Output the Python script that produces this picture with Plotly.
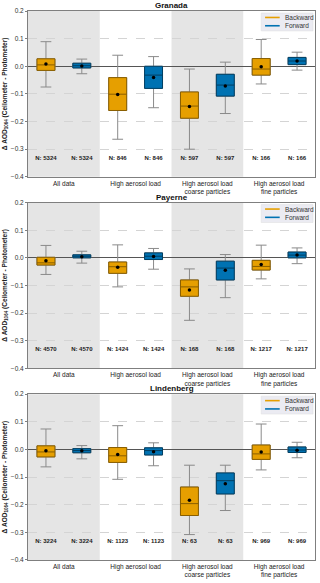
import plotly.graph_objects as go
from plotly.subplots import make_subplots

categories = ["All data", "High aerosol load", "High aerosol load<br>coarse particles", "High aerosol load<br>fine particles"]
sites = ["Granada", "Payerne", "Lindenberg"]
directions = ["Backward", "Forward"]

# Granada
granada_bwd_low = [-0.075, -0.264, -0.300, -0.064]
granada_bwd_q1 = [-0.015, -0.160, -0.188, -0.032]
granada_bwd_med = [0.005, -0.101, -0.144, -0.010]
granada_bwd_q3 = [0.027, -0.041, -0.093, 0.028]
granada_bwd_high = [0.089, 0.040, -0.010, 0.097]
granada_bwd_mean = [0.008, -0.102, -0.146, -0.002]
granada_fwd_low = [-0.027, -0.150, -0.171, -0.014]
granada_fwd_q1 = [-0.006, -0.080, -0.108, 0.006]
granada_fwd_med = [0.002, -0.032, -0.068, 0.019]
granada_fwd_q3 = [0.011, 0.000, -0.029, 0.032]
granada_fwd_high = [0.026, 0.035, 0.015, 0.051]
granada_fwd_mean = [0.001, -0.041, -0.071, 0.019]
granada_n = [5324, 846, 597, 166]

# Payerne
payerne_bwd_low = [-0.060, -0.105, -0.226, -0.076]
payerne_bwd_q1 = [-0.026, -0.056, -0.139, -0.044]
payerne_bwd_med = [-0.018, -0.032, -0.105, -0.031]
payerne_bwd_q3 = [0.002, -0.015, -0.080, -0.009]
payerne_bwd_high = [0.045, 0.047, -0.040, 0.046]
payerne_bwd_mean = [-0.010, -0.034, -0.116, -0.024]
payerne_fwd_low = [-0.019, -0.041, -0.144, -0.021]
payerne_fwd_q1 = [0.000, -0.006, -0.080, 0.000]
payerne_fwd_med = [0.006, 0.006, -0.037, 0.010]
payerne_fwd_q3 = [0.011, 0.018, -0.012, 0.021]
payerne_fwd_high = [0.024, 0.034, 0.012, 0.036]
payerne_fwd_mean = [0.004, 0.005, -0.045, 0.010]
payerne_n = [4570, 1424, 168, 1217]

# Lindenberg
lindenberg_bwd_low = [-0.063, -0.108, -0.308, -0.074]
lindenberg_bwd_q1 = [-0.027, -0.047, -0.239, -0.036]
lindenberg_bwd_med = [-0.009, -0.023, -0.196, -0.016]
lindenberg_bwd_q3 = [0.013, 0.007, -0.136, 0.016]
lindenberg_bwd_high = [0.074, 0.086, -0.057, 0.092]
lindenberg_bwd_mean = [-0.005, -0.018, -0.184, -0.009]
lindenberg_fwd_low = [-0.034, -0.059, -0.221, -0.030]
lindenberg_fwd_q1 = [-0.012, -0.020, -0.161, -0.011]
lindenberg_fwd_med = [-0.004, -0.004, -0.113, -0.002]
lindenberg_fwd_q3 = [0.003, 0.006, -0.085, 0.009]
lindenberg_fwd_high = [0.014, 0.024, -0.057, 0.026]
lindenberg_fwd_mean = [-0.005, -0.008, -0.124, -0.003]
lindenberg_n = [3224, 1123, 63, 969]

y_ticks = [0.2, 0.1, 0.0, -0.1, -0.2, -0.3, -0.4]
n_label_y = -0.332

site_stats = [
    {"Backward": (granada_bwd_low, granada_bwd_q1, granada_bwd_med, granada_bwd_q3, granada_bwd_high, granada_bwd_mean),
     "Forward": (granada_fwd_low, granada_fwd_q1, granada_fwd_med, granada_fwd_q3, granada_fwd_high, granada_fwd_mean),
     "n": granada_n},
    {"Backward": (payerne_bwd_low, payerne_bwd_q1, payerne_bwd_med, payerne_bwd_q3, payerne_bwd_high, payerne_bwd_mean),
     "Forward": (payerne_fwd_low, payerne_fwd_q1, payerne_fwd_med, payerne_fwd_q3, payerne_fwd_high, payerne_fwd_mean),
     "n": payerne_n},
    {"Backward": (lindenberg_bwd_low, lindenberg_bwd_q1, lindenberg_bwd_med, lindenberg_bwd_q3, lindenberg_bwd_high, lindenberg_bwd_mean),
     "Forward": (lindenberg_fwd_low, lindenberg_fwd_q1, lindenberg_fwd_med, lindenberg_fwd_q3, lindenberg_fwd_high, lindenberg_fwd_mean),
     "n": lindenberg_n},
]

fill = {"Backward": "#E69F00", "Forward": "#0072B2"}
edge = {"Backward": "#8a5f00", "Forward": "#003f63"}
offset = {"Backward": -0.25, "Forward": 0.25}
FONT = "Liberation Sans, Arial, sans-serif"

fig = make_subplots(rows=3, cols=1, vertical_spacing=26 / 554,
                    subplot_titles=[f"<b>{s}</b>" for s in sites])

for r, stats in enumerate(site_stats, start=1):
    sfx = "" if r == 1 else str(r)
    xr, yr = f"x{sfx}", f"y{sfx}"
    idx = list(range(len(categories)))
    # shaded category backgrounds
    for i in idx:
        if i % 2 == 0:
            fig.add_shape(type="rect", xref=xr, yref=f"{yr} domain",
                          x0=i - 0.5, x1=i + 0.5, y0=0, y1=1, fillcolor="#e5e5e5",
                          line_width=0, layer="below")
    for d in directions:
        low, q1, med, q3, high, mean = stats[d]
        xs = [i + offset[d] for i in idx]
        # whiskers (gray)
        fig.add_trace(go.Box(x=xs, q1=q1, median=med, q3=q3, lowerfence=low, upperfence=high,
                             width=0.25, whiskerwidth=0.6, line=dict(color="#8a8a8a", width=1),
                             fillcolor="rgba(0,0,0,0)", showlegend=False, hoverinfo="skip"),
                      row=r, col=1)
        # box bodies
        fig.add_trace(go.Box(x=xs, q1=q1, median=med, q3=q3, lowerfence=q1, upperfence=q3,
                             width=0.25, whiskerwidth=0, line=dict(color=edge[d], width=1),
                             fillcolor=fill[d], showlegend=False),
                      row=r, col=1)
        # means
        fig.add_trace(go.Scatter(x=xs, y=mean, mode="markers",
                                 marker=dict(color="black", size=3.5), showlegend=False),
                      row=r, col=1)
        # N labels
        fig.add_trace(go.Scatter(x=xs, y=[n_label_y] * len(xs), mode="text",
                                 text=[f"<b>N: {n}</b>" for n in stats["n"]],
                                 textfont=dict(size=6, color="#222", family=FONT),
                                 showlegend=False, hoverinfo="skip"),
                      row=r, col=1)

    # compact legend box (drawn in axis-domain coordinates)
    fig.add_shape(type="rect", xref=f"{xr} domain", yref=f"{yr} domain",
                  x0=0.8125, x1=0.993, y0=0.88, y1=0.988,
                  fillcolor="rgba(234,234,241,0.95)", line=dict(color="#dcdcdc", width=0.5))
    for k, d in enumerate(directions):
        yy = 0.961 - k * 0.05
        fig.add_shape(type="line", xref=f"{xr} domain", yref=f"{yr} domain",
                      x0=0.826, x1=0.877, y0=yy, y1=yy, line=dict(color=fill[d], width=1.6))
        fig.add_annotation(xref=f"{xr} domain", yref=f"{yr} domain", x=0.888, y=yy,
                           text=d, showarrow=False, xanchor="left", yanchor="middle",
                           font=dict(size=6.5, color="#333", family=FONT))

    fig.update_xaxes(row=r, col=1, range=[-0.5, 3.5], tickvals=idx, ticktext=categories,
                     showgrid=False, zeroline=False, showline=True, mirror=True,
                     linecolor="#7f7f7f", linewidth=1, ticks="", tickfont=dict(size=6.5, color="#222"))
    fig.update_yaxes(row=r, col=1, range=[-0.4, 0.2], tickvals=y_ticks, tickformat=".1f",
                     showgrid=True, gridcolor="#d4d4d4", griddash="dash", gridwidth=0.7,
                     zeroline=True, zerolinecolor="#555555", zerolinewidth=1.3,
                     showline=True, mirror=True, linecolor="#7f7f7f", linewidth=1,
                     ticks="outside", ticklen=2, tickcolor="#7f7f7f",
                     tickfont=dict(size=6.5, color="#333"),
                     title=dict(text="<b>Δ AOD<sub>1064</sub> (Ceilometer - Photometer)</b>",
                                font=dict(size=6.5, color="#222"), standoff=2))

for a in fig.layout.annotations:
    if a.text and a.text.startswith("<b>"):
        a.font = dict(size=8, color="#111", family=FONT)
        a.yshift = -1

fig.update_layout(width=320, height=583, margin=dict(l=28, r=4, t=11, b=18),
                  plot_bgcolor="white", paper_bgcolor="white", boxmode="overlay",
                  showlegend=False,
                  font=dict(family=FONT, size=7, color="#222"))

fig.write_html("out.html")
